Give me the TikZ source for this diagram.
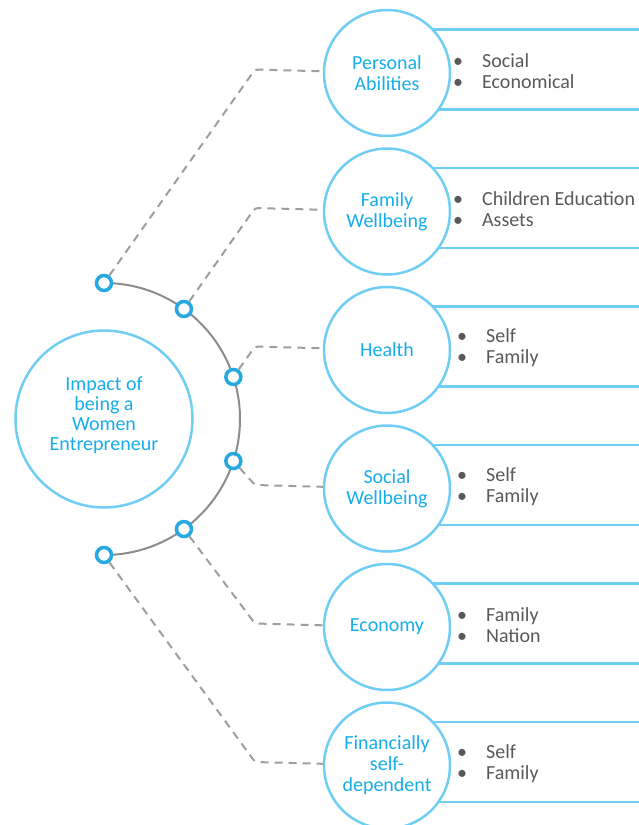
\documentclass[tikz,border=0pt]{standalone}
\usepackage{fontspec}
\setmainfont{Carlito}
\usepackage{xcolor}
\usetikzlibrary{calc}
\definecolor{ringblue}{RGB}{112,205,244}
\definecolor{labelblue}{RGB}{22,174,234}
\definecolor{knobblue}{RGB}{38,168,224}
\definecolor{arcgray}{RGB}{140,140,140}
\definecolor{dashgray}{RGB}{158,158,158}
\definecolor{itemgray}{RGB}{89,89,89}
\newcommand{\itemdot}{\textbullet\hspace{19pt}}

\begin{document}
\begin{tikzpicture}[x=1pt,y=-1pt]
	\tikzstyle{every node}+=[inner sep=0pt]
	\tikzstyle{topic}=[circle,draw=ringblue,line width=2.5pt,fill=white,minimum size=126pt,text=labelblue,align=center,font=\fontsize{20}{21}\selectfont]
	\tikzstyle{hub}=[topic,minimum size=177pt]
	\tikzstyle{hubtext}=[text=labelblue,align=center,font=\fontsize{20}{20}\selectfont]
	\tikzstyle{knob}=[circle,draw=knobblue,line width=3.5pt,fill=white,minimum size=15pt]
	\tikzstyle{link}=[dashgray,line width=2pt,dash pattern=on 8pt off 6pt,rounded corners=3pt]
	\tikzstyle{boxline}=[ringblue,line width=2.5pt]
	\tikzstyle{items}=[anchor=west,text=itemgray,align=left,font=\fontsize{20}{21}\selectfont]
	\useasboundingbox (0,0) rectangle (638,825);
	% box lines, behind the circles
	\foreach \y in {71.5,210,348.5,487,625.5,764}
		\draw[boxline] (387,\y-42) -- (640,\y-42) (387,\y+38) -- (640,\y+38);
	% hub with the ring of knobs
	\node[hub] (hub) at (104,419) {};
	\node[hubtext] (hubtext) at (104,415) {Impact of\\being a\\Women\\Entrepreneur};
	\draw[arcgray,line width=2pt] (104,283) arc[start angle=-90,end angle=90,radius=136];
	\foreach \a [count=\i] in {-90,-54,-18,18,54,90}
		\node[knob] (k\i) at ($(hub.center)+(\a:136)$) {};
	% topics
	\node[topic] (t1) at (387,73) {Personal\\Abilities};
	\node[topic] (t2) at (387,211.5) {Family\\Wellbeing};
	\node[topic] (t3) at (387,350) {Health};
	\node[topic] (t4) at (387,488.5) {Social\\Wellbeing};
	\node[topic] (t5) at (387,627) {Economy};
	\node[topic] (t6) at (387,765.5) {Financially\\self-\\dependent};
	% dashed links
	\foreach \i/\y in {1/71.5,2/210,3/348.5,4/487,5/625.5,6/764}
	{
		\coordinate (c\i) at (255,\y-2);
		\draw[link] (k\i) -- (c\i) -- (t\i);
	}
	% bullet lists
	\node[items] (i1) at (453,71) {\itemdot Social\\\itemdot Economical};
	\node[items] (i2) at (453,209.5) {\itemdot Children Education\\\itemdot Assets};
	\node[items] (i3) at (457,348) {\itemdot Self\\\itemdot Family};
	\node[items] (i4) at (457,486.5) {\itemdot Self\\\itemdot Family};
	\node[items] (i5) at (457,625) {\itemdot Family\\\itemdot Nation};
	\node[items] (i6) at (457,763.5) {\itemdot Self\\\itemdot Family};
\end{tikzpicture}
\end{document}
